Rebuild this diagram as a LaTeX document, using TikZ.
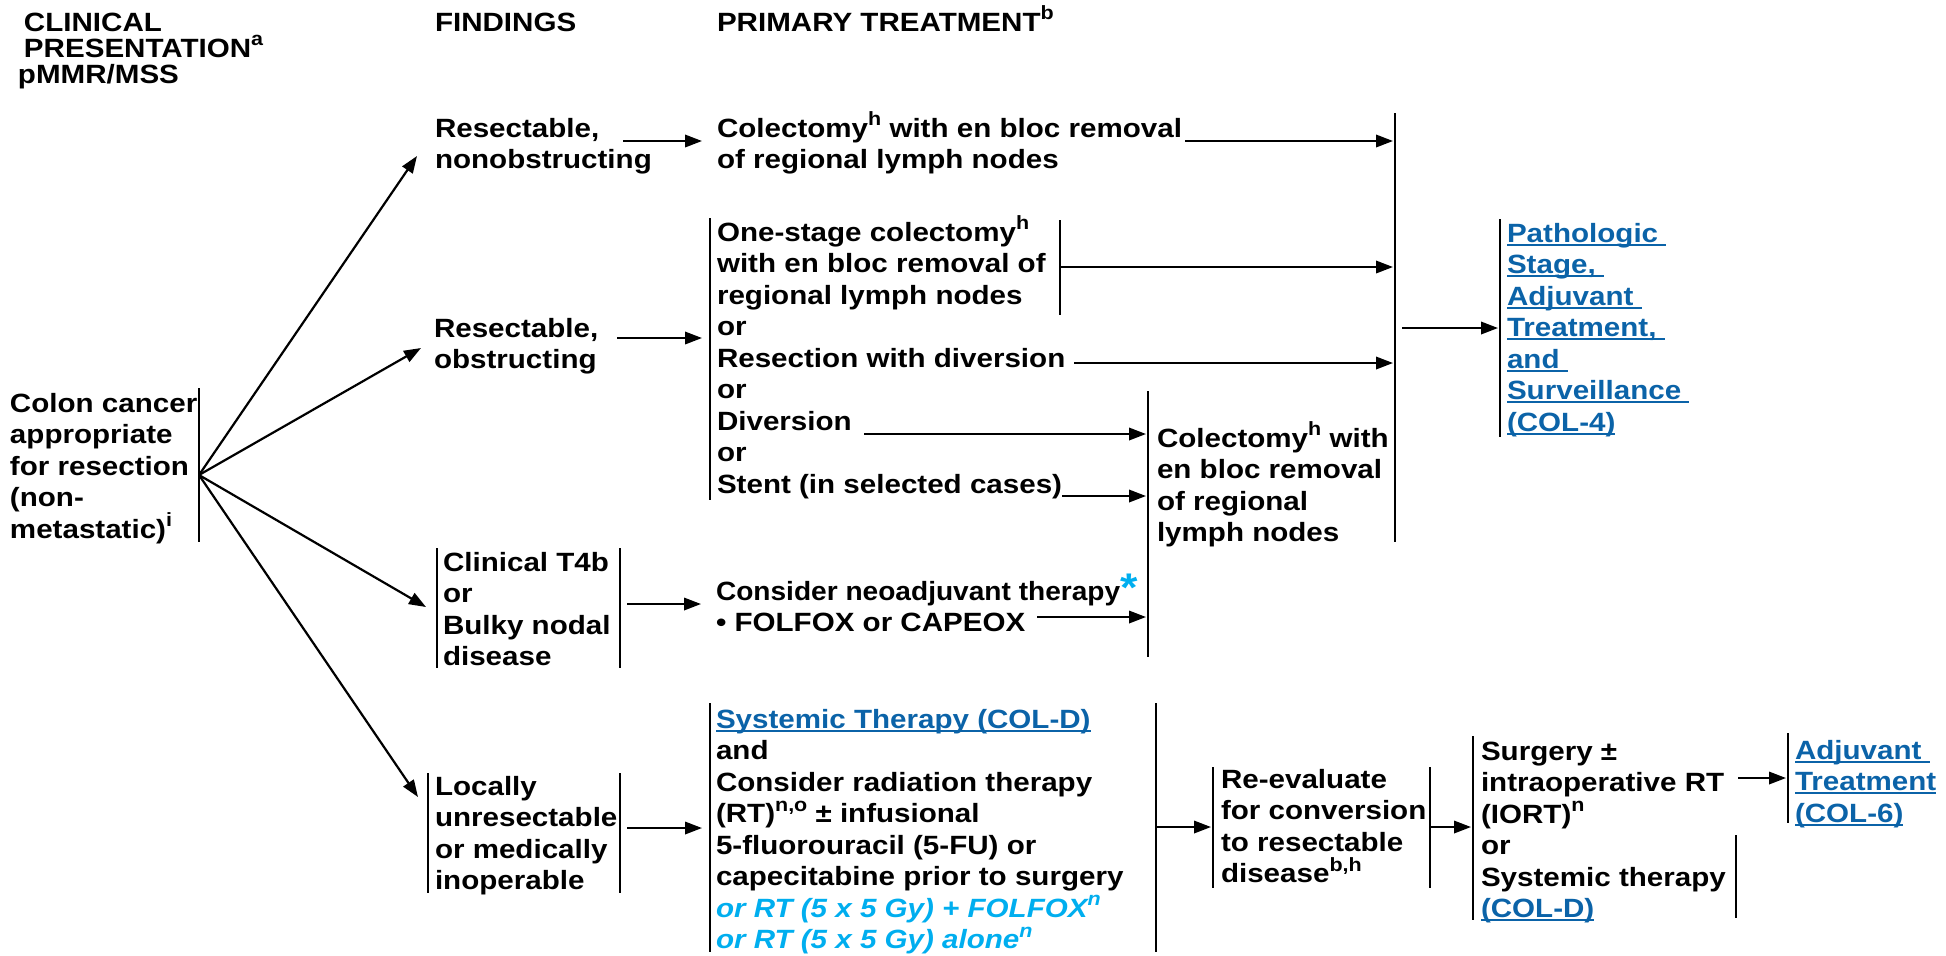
\documentclass[tikz,border=0pt]{standalone}
\usepackage{fontspec}
\setmainfont{Liberation Sans}[FakeStretch=1.12]
\usetikzlibrary{arrows.meta}

\definecolor{linkblue}{HTML}{0B63A8}
\definecolor{optcyan}{HTML}{00AEEF}

% superscript marks, strut for the first line, underlined links
\newcommand\supx[1]{\raisebox{5.6pt}{\fontsize{9.6}{9.6}\selectfont #1}}
\newcommand\tstrut{\rule{0pt}{13pt}}
\newcommand\lnkline[1]{\setbox0=\hbox{#1}\rlap{\rule[-1.9pt]{\wd0}{0.95pt}}\box0}
\newcommand\lnk[1]{\textcolor{linkblue}{\lnkline{#1}}}
\newcommand\opt[1]{{\itshape\color{optcyan}#1}}
\newcommand\optstar{{\fontsize{20}{20}\selectfont\raisebox{-0.6pt}{\textcolor{optcyan}{*}}}}
\newcommand\bodyfont{\fontsize{13.2}{15.75}\selectfont\bfseries\lineskiplimit=-20pt}
\newcommand\hdrfont{\fontsize{13.2}{13}\selectfont\bfseries\lineskiplimit=-20pt}

\tikzset{
  txt/.style={anchor=north west, inner sep=0pt, outer sep=0pt, align=left, font=\bodyfont},
  hdr/.style={txt, font=\hdrfont},
  bar/.style={line width=1.2pt},
  arr/.style={line width=1.1pt, -{Triangle[length=8.5pt,width=6.2pt]}},
}

\begin{document}
\begin{tikzpicture}[x=0.5pt,y=-0.5pt]
\useasboundingbox (0,0) rectangle (1946,955);

% ---- column headings
\node[hdr] (hclin) at (24,5)   {\tstrut CLINICAL\\PRESENTATION\supx{a}};
\node[hdr] (hmmr)  at (18,57)  {\tstrut pMMR/MSS};
\node[hdr] (hfind) at (435,5)  {\tstrut FINDINGS};
\node[hdr] (hprim) at (717,5)  {\tstrut PRIMARY TREATMENT\supx{b}};

% ---- text blocks
\node[txt] (colon) at (10,386) {\tstrut Colon cancer\\appropriate\\for resection\\(non-\\metastatic)\supx{i}};

\node[txt] (nonob) at (435,111) {\tstrut Resectable,\\nonobstructing};
\node[txt] (obst)  at (434,311) {\tstrut Resectable,\\obstructing};
\node[txt] (tfb)   at (443,545) {\tstrut Clinical T4b\\or\\Bulky nodal\\disease};
\node[txt] (loc)   at (435,769) {\tstrut Locally\\unresectable\\or medically\\inoperable};

\node[txt] (cola)  at (717,111) {\tstrut Colectomy\supx{h} with en bloc removal\\of regional lymph nodes};
\node[txt] (onest) at (717,215) {\tstrut One-stage colectomy\supx{h}\\with en bloc removal of\\regional lymph nodes\\or\\Resection with diversion\\or\\Diversion\\or\\Stent (in selected cases)};
\node[txt] (neo)   at (716,574) {\tstrut \scalebox{0.95}[1]{Consider neoadjuvant therapy}\optstar\\• FOLFOX or CAPEOX};
\node[txt] (sys)   at (716,702) {\tstrut \lnk{Systemic Therapy (COL-D)}\\and\\Consider radiation therapy\\(RT)\supx{n,o} ± infusional\\5-fluorouracil (5-FU) or\\capecitabine prior to surgery\\\opt{or RT (5 x 5 Gy) + FOLFOX\supx{n}}\\\opt{or RT (5 x 5 Gy) alone\supx{n}}};

\node[txt] (colb)  at (1157,421) {\tstrut Colectomy\supx{h} with\\en bloc removal\\of regional\\lymph nodes};
\node[txt] (reev)  at (1221,762) {\tstrut Re-evaluate\\for conversion\\to resectable\\disease\supx{b,h}};
\node[txt] (surg)  at (1481,734) {\tstrut Surgery ±\\intraoperative RT\\(IORT)\supx{n}\\or\\Systemic therapy\\\lnk{(COL-D)}};
\node[txt] (path)  at (1507,216) {\tstrut \lnk{Pathologic\ }\\\lnk{Stage,\ }\\\lnk{Adjuvant\ }\\\lnk{Treatment,\ }\\\lnk{and\ }\\\lnk{Surveillance\ }\\\lnk{(COL-4)}};
\node[txt] (adj)   at (1795,733) {\tstrut \lnk{Adjuvant\ }\\\lnk{Treatment}\\\lnk{(COL-6)}};

% ---- bracket bars
\coordinate (colonT) at (199,388);  \coordinate (colonB) at (199,542);
\coordinate (onesT)  at (710,218);  \coordinate (onesB)  at (710,500);
\coordinate (onesRT) at (1060,220); \coordinate (onesRB) at (1060,315);
\coordinate (bigT)   at (1395,113); \coordinate (bigB)   at (1395,542);
\coordinate (colbT)  at (1148,391); \coordinate (colbB)  at (1148,657);
\coordinate (pathT)  at (1500,219); \coordinate (pathB)  at (1500,437);
\coordinate (tfbLT)  at (437,548);  \coordinate (tfbLB)  at (437,668);
\coordinate (tfbRT)  at (620,548);  \coordinate (tfbRB)  at (620,668);
\coordinate (locLT)  at (428,773);  \coordinate (locLB)  at (428,893);
\coordinate (locRT)  at (620,773);  \coordinate (locRB)  at (620,893);
\coordinate (sysLT)  at (710,703);  \coordinate (sysLB)  at (710,952);
\coordinate (sysRT)  at (1156,703); \coordinate (sysRB)  at (1156,952);
\coordinate (reLT)   at (1213,767); \coordinate (reLB)   at (1213,888);
\coordinate (reRT)   at (1430,767); \coordinate (reRB)   at (1430,888);
\coordinate (surLT)  at (1473,736); \coordinate (surLB)  at (1473,920);
\coordinate (surRT)  at (1736,835); \coordinate (surRB)  at (1736,918);
\coordinate (adjT)   at (1788,733); \coordinate (adjB)   at (1788,823);

\foreach \t/\b in {colonT/colonB, onesT/onesB, onesRT/onesRB, bigT/bigB, colbT/colbB,
  pathT/pathB, tfbLT/tfbLB, tfbRT/tfbRB, locLT/locLB, locRT/locRB, sysLT/sysLB,
  sysRT/sysRB, reLT/reLB, reRT/reRB, surLT/surLB, surRT/surRB, adjT/adjB}
  \draw[bar] (\t) -- (\b);

% ---- fan of findings
\coordinate (fan) at (199,475);
\coordinate (toNonob) at (417,156);
\coordinate (toObst)  at (421,348);
\coordinate (toTfb)   at (426,607);
\coordinate (toLoc)   at (418,797);
\foreach \e in {toNonob,toObst,toTfb,toLoc} \draw[arr] (fan) -- (\e);

% ---- horizontal connectors
\coordinate (a1s) at (623,141);  \coordinate (a1e) at (702,141);
\coordinate (a2s) at (1185,141); \coordinate (a2e) at (1393,141);
\coordinate (a3s) at (617,338);  \coordinate (a3e) at (702,338);
\coordinate (a4s) at (1060,267); \coordinate (a4e) at (1393,267);
\coordinate (a5s) at (1074,363); \coordinate (a5e) at (1393,363);
\coordinate (a6s) at (864,434);  \coordinate (a6e) at (1146,434);
\coordinate (a7s) at (1062,496); \coordinate (a7e) at (1146,496);
\coordinate (a8s) at (1037,617); \coordinate (a8e) at (1146,617);
\coordinate (a9s) at (627,604);  \coordinate (a9e) at (701,604);
\coordinate (b1s) at (627,828);  \coordinate (b1e) at (702,828);
\coordinate (b2s) at (1402,328); \coordinate (b2e) at (1498,328);
\coordinate (b3s) at (1156,827); \coordinate (b3e) at (1211,827);
\coordinate (b4s) at (1430,827); \coordinate (b4e) at (1471,827);
\coordinate (b5s) at (1738,778); \coordinate (b5e) at (1786,778);
\foreach \s/\e in {a1s/a1e, a2s/a2e, a3s/a3e, a4s/a4e, a5s/a5e, a6s/a6e, a7s/a7e,
  a8s/a8e, a9s/a9e, b1s/b1e, b2s/b2e, b3s/b3e, b4s/b4e, b5s/b5e}
  \draw[arr] (\s) -- (\e);
\end{tikzpicture}
\end{document}
